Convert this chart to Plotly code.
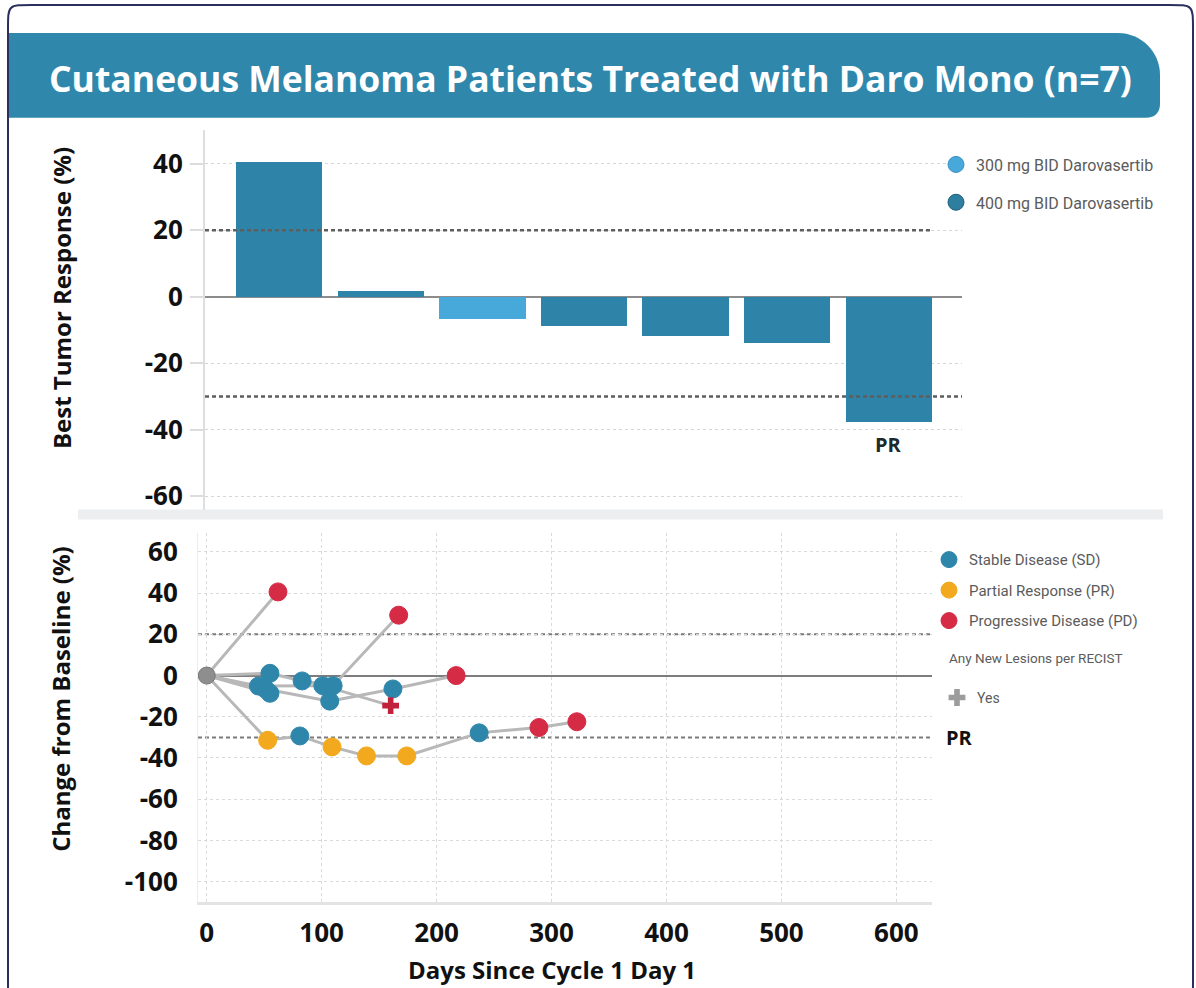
import plotly.graph_objects as go

# ---------------- data ----------------
patients = ["Pt 1", "Pt 2", "Pt 3", "Pt 4", "Pt 5", "Pt 6", "Pt 7"]
best_response = [40.6, 1.8, -6.5, -8.7, -11.7, -13.9, -37.5]
dose_group = ["400 mg", "400 mg", "300 mg", "400 mg", "400 mg", "400 mg", "400 mg"]
thresholds = [20, -30]
top_ticks = [-60, -40, -20, 0, 20, 40]
bottom_yticks = [-100, -80, -60, -40, -20, 0, 20, 40, 60]
bottom_xticks = [0, 100, 200, 300, 400, 500, 600]

# spider-plot series (days since C1D1, % change from baseline, response status)
pt1_days = [0, 62]
pt1_change = [0, 40.6]
pt1_status = ["BL", "PD"]

pt2_days = [0, 55, 83, 110, 167]
pt2_change = [0, 1.1, -2.6, -4.9, 29.3]
pt2_status = ["BL", "SD", "SD", "SD", "PD"]

pt3_days = [0, 45, 101, 160]
pt3_change = [0, -5.1, -4.9, -14.6]
pt3_status = ["BL", "SD", "SD", "NL"]

pt4_days = [0, 51, 107, 162, 217]
pt4_change = [0, -6.5, -12.4, -6.5, 0]
pt4_status = ["BL", "SD", "SD", "SD", "PD"]

pt5_days = [0, 55]
pt5_change = [0, -8.6]
pt5_status = ["BL", "SD"]

pt7_days = [0, 53, 81, 109, 139, 174, 237, 289, 322]
pt7_change = [0, -31.4, -29.3, -34.6, -39.0, -39.0, -27.8, -25.2, -22.4]
pt7_status = ["BL", "PR", "SD", "PR", "PR", "PR", "SD", "PD", "PD"]

spider = [
    (pt1_days, pt1_change, pt1_status),
    (pt2_days, pt2_change, pt2_status),
    (pt3_days, pt3_change, pt3_status),
    (pt4_days, pt4_change, pt4_status),
    (pt5_days, pt5_change, pt5_status),
    (pt7_days, pt7_change, pt7_status),
]

# ---------------- styling ----------------
W, H = 1196, 988
def fx(x):
    return x / W
def fy(y):
    return 1 - y / H

BOLD = "Open Sans"
LEG = "Roboto"
C400 = "#2e84a8"
C300 = "#47a8da"
CSD = "#2e86ab"
CPR = "#f2a91e"
CPD = "#d62b45"
CBL = "#8e8e8e"
BANNER = "#2f88ac"

def labels(vals):
    return [str(v) for v in vals]

fig = go.Figure()

# ---- top waterfall ----
bar_x = list(range(len(patients)))
bar_colors = [C300 if d == "300 mg" else C400 for d in dose_group]
fig.add_trace(go.Bar(
    x=bar_x, y=best_response, width=0.85,
    marker=dict(color=bar_colors, line=dict(width=0)),
    showlegend=False, xaxis="x", yaxis="y", hovertext=patients,
))
fig.add_trace(go.Scatter(
    x=[None], y=[None], mode="markers", name="300 mg BID Darovasertib",
    marker=dict(symbol="circle", size=16, color=C300, line=dict(color="#3a8fc0", width=1)),
    xaxis="x", yaxis="y", legend="legend", legendgroup="a",
))
fig.add_trace(go.Scatter(
    x=[None], y=[None], mode="markers", name="400 mg BID Darovasertib",
    marker=dict(symbol="circle", size=16, color="#2e7ea0", line=dict(color="#1f5f7d", width=1)),
    xaxis="x", yaxis="y", legend="legend", legendgroup="b",
))

# ---- bottom spider ----
for days, chg, st in spider:
    fig.add_trace(go.Scatter(
        x=days, y=chg, mode="lines", line=dict(color="#b8b8b8", width=3),
        showlegend=False, xaxis="x2", yaxis="y2", hoverinfo="skip",
    ))

def collect(code):
    xs, ys = [], []
    for days, chg, st in spider:
        for d, c, s in zip(days, chg, st):
            if s == code:
                xs.append(d)
                ys.append(c)
    return xs, ys

bx, by = collect("BL")
fig.add_trace(go.Scatter(
    x=bx[:1], y=by[:1], mode="markers",
    marker=dict(size=17, color=CBL, line=dict(color="#777", width=1)),
    showlegend=False, xaxis="x2", yaxis="y2",
))

for code, name, col, grp in [("SD", "Stable Disease (SD)", CSD, "s1"),
                             ("PR", "Partial Response (PR)", CPR, "s2"),
                             ("PD", "Progressive Disease (PD)", CPD, "s3")]:
    xs, ys = collect(code)
    fig.add_trace(go.Scatter(
        x=xs, y=ys, mode="markers", name=name,
        marker=dict(size=18, color=col, line=dict(color=col, width=1)),
        xaxis="x2", yaxis="y2", legend="legend2", legendgroup=grp,
    ))

nx, ny = collect("NL")
fig.add_trace(go.Scatter(
    x=nx, y=ny, mode="markers", showlegend=False,
    marker=dict(symbol="cross", size=14, color="#c0223c"),
    xaxis="x2", yaxis="y2",
))
fig.add_trace(go.Scatter(
    x=[None], y=[None], mode="markers", name="Yes",
    marker=dict(symbol="cross", size=14, color="#9c9c9c"),
    xaxis="x2", yaxis="y2", legend="legend3",
))

# ---------------- shapes ----------------
shapes = []
# outer rounded border
r = 24
L, T, R, B = 8, 5, 1193, 1010
shapes.append(dict(
    type="path", xref="paper", yref="paper",
    path=(f"M {fx(L)},{fy(T + r)} C {fx(L)},{fy(T)} {fx(L)},{fy(T)} {fx(L + r)},{fy(T)} "
          f"L {fx(R - r)},{fy(T)} C {fx(R)},{fy(T)} {fx(R)},{fy(T)} {fx(R)},{fy(T + r)} "
          f"L {fx(R)},{fy(B - r)} C {fx(R)},{fy(B)} {fx(R)},{fy(B)} {fx(R - r)},{fy(B)} "
          f"L {fx(L + r)},{fy(B)} C {fx(L)},{fy(B)} {fx(L)},{fy(B)} {fx(L)},{fy(B - r)} Z"),
    line=dict(color="#2c2e5e", width=2), fillcolor="rgba(0,0,0,0)", layer="above",
))
# title banner
bl, bt, br, bb, rr = 9, 33, 1160, 118, 42
shapes.append(dict(
    type="path", xref="paper", yref="paper",
    path=(f"M {fx(bl)},{fy(bt)} L {fx(br - rr)},{fy(bt)} "
          f"C {fx(br - rr * 0.45)},{fy(bt)} {fx(br)},{fy(bt + rr * 0.45)} {fx(br)},{fy(bt + rr)} "
          f"L {fx(br)},{fy(bb - 14)} "
          f"C {fx(br)},{fy(bb - 5)} {fx(br - 5)},{fy(bb)} {fx(br - 14)},{fy(bb)} "
          f"L {fx(bl)},{fy(bb)} Z"),
    line=dict(width=0), fillcolor=BANNER, layer="below",
))
# separator band between the panels
shapes.append(dict(type="rect", xref="paper", yref="paper",
                   x0=fx(78), x1=fx(1163), y0=fy(521), y1=fy(511),
                   line=dict(width=0), fillcolor="#eceeef", layer="below"))
# threshold lines, top
shapes.append(dict(type="line", xref="x domain", yref="y", x0=0, x1=0.958,
                   y0=thresholds[0], y1=thresholds[0],
                   line=dict(color="#5e5e5e", width=2.5, dash="4px,3px")))
shapes.append(dict(type="line", xref="x domain", yref="y", x0=0, x1=1,
                   y0=thresholds[1], y1=thresholds[1],
                   line=dict(color="#5e5e5e", width=2.5, dash="4px,3px")))
# threshold lines, bottom
for t in thresholds:
    shapes.append(dict(type="line", xref="x2 domain", yref="y2", x0=0, x1=1,
                       y0=t, y1=t, layer="below",
                       line=dict(color="#7a7a7a", width=2, dash="4px,3px")))

# ---------------- annotations ----------------
ann = []
ann.append(dict(text="<b>Cutaneous Melanoma Patients Treated with Daro Mono (n=7)</b>",
                x=fx(590), y=fy(78), xref="paper", yref="paper", showarrow=False,
                font=dict(family=BOLD, size=35.5, color="white"),
                xanchor="center", yanchor="middle"))
ann.append(dict(text="<b>Best Tumor Response (%)</b>", x=fx(61), y=fy(299),
                xref="paper", yref="paper", showarrow=False, textangle=-90,
                font=dict(family=BOLD, size=24, color="#111"),
                xanchor="center", yanchor="middle"))
ann.append(dict(text="<b>Change from Baseline (%)</b>", x=fx(61), y=fy(701),
                xref="paper", yref="paper", showarrow=False, textangle=-90,
                font=dict(family=BOLD, size=24, color="#111"),
                xanchor="center", yanchor="middle"))
ann.append(dict(text="<b>Days Since Cycle 1 Day 1</b>", x=fx(552), y=fy(972),
                xref="paper", yref="paper", showarrow=False,
                font=dict(family=BOLD, size=24, color="#111"),
                xanchor="center", yanchor="middle"))
ann.append(dict(text="<b>PR</b>", x=bar_x[-1], y=best_response[-1], xref="x", yref="y",
                showarrow=False, yanchor="top", yshift=-8,
                font=dict(family=BOLD, size=20, color="#1b2a2c")))
ann.append(dict(text="<b>PR</b>", x=fx(944), y=thresholds[1], xref="paper", yref="y2",
                showarrow=False, xanchor="left", yanchor="middle",
                font=dict(family=BOLD, size=20, color="#111")))
ann.append(dict(text="Any New Lesions per RECIST", x=fx(947), y=fy(660),
                xref="paper", yref="paper", showarrow=False,
                xanchor="left", yanchor="middle",
                font=dict(family=LEG, size=13.5, color="#5b5b5b")))

tickfont = dict(family=BOLD, size=26, color="#111", weight="bold")

fig.update_layout(
    width=W, height=H, margin=dict(l=0, r=0, t=0, b=0),
    paper_bgcolor="white", plot_bgcolor="white",
    shapes=shapes, annotations=ann, bargap=0,
    xaxis=dict(domain=[fx(205), fx(962)], range=[-0.73, 6.72], showticklabels=False,
               showgrid=False, zeroline=False, showline=False, anchor="y"),
    yaxis=dict(domain=[fy(512), fy(130)], range=[-64.3, 50.3],
               tickvals=top_ticks, ticktext=labels(top_ticks),
               ticks="outside", ticklen=13, tickcolor="#dcdcdc", tickwidth=1.5,
               showline=True, linecolor="#dcdee2", linewidth=2,
               showgrid=True, gridcolor="#d6d6d6", griddash="dot", gridwidth=1,
               zeroline=True, zerolinecolor="#8c8c8c", zerolinewidth=2,
               tickfont=tickfont, anchor="x", ticklabelstandoff=2),
    xaxis2=dict(domain=[fx(198), fx(932)], range=[-7.6, 631],
                tickvals=bottom_xticks, ticktext=labels(bottom_xticks),
                showgrid=True, gridcolor="#dadada", griddash="dot",
                showline=True, linecolor="#e3e3e3", linewidth=3,
                zeroline=False, tickfont=tickfont, anchor="y2", ticks="",
                ticklabelstandoff=6),
    yaxis2=dict(domain=[fy(905), fy(535)], range=[-110, 69],
                tickvals=bottom_yticks, ticktext=labels(bottom_yticks),
                showgrid=True, gridcolor="#dadada", griddash="dot",
                showline=True, linecolor="#ececec", linewidth=1,
                zeroline=True, zerolinecolor="#7d7d7d", zerolinewidth=2,
                tickfont=tickfont, anchor="x2", ticks="", ticklabelstandoff=14),
    legend=dict(x=fx(936), y=fy(148), xanchor="left", yanchor="top",
                font=dict(family=LEG, size=16, color="#5b5b5b"),
                traceorder="grouped", tracegroupgap=14, bgcolor="rgba(0,0,0,0)"),
    legend2=dict(x=fx(929), y=fy(545), xanchor="left", yanchor="top",
                 font=dict(family=LEG, size=15, color="#5b5b5b"),
                 traceorder="grouped", tracegroupgap=8, bgcolor="rgba(0,0,0,0)"),
    legend3=dict(x=fx(937), y=fy(684), xanchor="left", yanchor="top",
                 font=dict(family=LEG, size=14, color="#5b5b5b"),
                 bgcolor="rgba(0,0,0,0)"),
)

fig.write_html("out.html", config={"displayModeBar": False},
               post_script="document.body.style.margin='0';document.body.style.padding='0';")
